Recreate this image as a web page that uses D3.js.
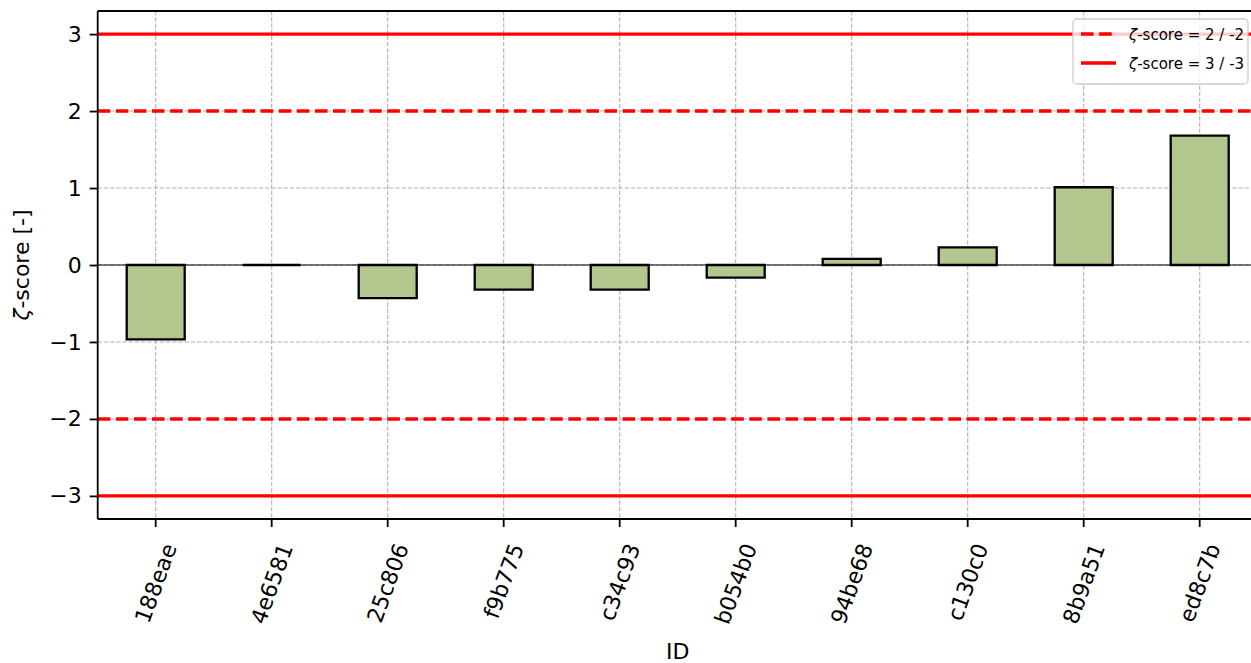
<!DOCTYPE html>
<html>
<head>
<meta charset="utf-8">
<script src="https://cdn.jsdelivr.net/npm/d3@7"></script>
<style>
  html, body { margin: 0; padding: 0; background: #fff; }
  svg { display: block; font-family: "DejaVu Sans", sans-serif; }
</style>
</head>
<body>
<svg id="chart" width="1251" height="663"></svg>
<script>
// Sample identifiers and their zeta-scores
const ids = ["188eae", "4e6581", "25c806", "f9b775", "c34c93", "b054b0", "94be68", "c130c0", "8b9a51", "ed8c7b"];
const zscores = [-0.965, 0.0, -0.43, -0.32, -0.32, -0.165, 0.08, 0.23, 1.01, 1.68];
const yTicks = [-3, -2, -1, 0, 1, 2, 3];
const limits = [
  { value: 2, dashed: true },
  { value: -2, dashed: true },
  { value: 3, dashed: false },
  { value: -3, dashed: false }
];
const legendItems = [
  { label: "-score = 2 / -2", dashed: true },
  { label: "-score = 3 / -3", dashed: false }
];

const svg = d3.select("#chart");
const plot = { left: 97.7, right: 1257.7, top: 11, bottom: 519 };

const x = d3.scaleBand().domain(ids).range([plot.left, plot.right]).paddingInner(0).paddingOuter(0);
const y = d3.scaleLinear().domain([-3.3, 3.3]).range([plot.bottom, plot.top]);

const fontSize = 22;
const barColor = "#b3c68e";

// clip region for the plotting area
svg.append("defs").append("clipPath").attr("id", "plotclip")
  .append("rect")
  .attr("x", plot.left).attr("y", plot.top)
  .attr("width", plot.right - plot.left).attr("height", plot.bottom - plot.top);

const g = svg.append("g").attr("clip-path", "url(#plotclip)");

// grid
g.selectAll("line.vgrid").data(ids).enter().append("line")
  .attr("x1", d => x(d) + x.bandwidth() / 2).attr("x2", d => x(d) + x.bandwidth() / 2)
  .attr("y1", plot.top).attr("y2", plot.bottom)
  .attr("stroke", "#b0b0b0").attr("stroke-width", 1.1).attr("stroke-dasharray", "4.3,1.9");
g.selectAll("line.hgrid").data(yTicks).enter().append("line")
  .attr("x1", plot.left).attr("x2", plot.right)
  .attr("y1", d => y(d)).attr("y2", d => y(d))
  .attr("stroke", "#b0b0b0").attr("stroke-width", 1.1).attr("stroke-dasharray", "4.3,1.9");

// zero line
g.append("line")
  .attr("x1", plot.left).attr("x2", plot.right)
  .attr("y1", y(0)).attr("y2", y(0))
  .attr("stroke", "#000").attr("stroke-width", 1.2);

// bars (paths, so a zero-height bar still shows its outline)
const bw = x.bandwidth() * 0.5;
g.selectAll("path.bar").data(zscores).enter().append("path")
  .attr("d", (d, i) => {
    const x0 = x(ids[i]) + (x.bandwidth() - bw) / 2;
    const y0 = y(0), y1 = y(d);
    return `M${x0},${y0}H${x0 + bw}V${y1}H${x0}Z`;
  })
  .attr("fill", barColor)
  .attr("stroke", "#000").attr("stroke-width", 2.3)
  .attr("stroke-linejoin", "miter");

// limit lines
g.selectAll("line.limit").data(limits).enter().append("line")
  .attr("x1", plot.left).attr("x2", plot.right)
  .attr("y1", d => y(d.value)).attr("y2", d => y(d.value))
  .attr("stroke", "#ff0000").attr("stroke-width", 3.4)
  .attr("stroke-dasharray", d => d.dashed ? "12.6,5.5" : null);

// spines
const spine = svg.append("g").attr("stroke", "#000").attr("stroke-width", 1.8).attr("fill", "none");
spine.append("line").attr("x1", plot.left).attr("x2", plot.left).attr("y1", plot.top).attr("y2", plot.bottom);
spine.append("line").attr("x1", plot.left).attr("x2", plot.right).attr("y1", plot.top).attr("y2", plot.top);
spine.append("line").attr("x1", plot.left).attr("x2", plot.right).attr("y1", plot.bottom).attr("y2", plot.bottom);
spine.append("line").attr("x1", plot.right).attr("x2", plot.right).attr("y1", plot.top).attr("y2", plot.bottom);

// y axis
const yAxis = d3.axisLeft(y).tickValues(yTicks).tickSize(8).tickPadding(8)
  .tickFormat(d => d < 0 ? "\u2212" + Math.abs(d) : String(d));
const yg = svg.append("g").attr("transform", `translate(${plot.left},0)`).call(yAxis);
yg.select(".domain").remove();
yg.selectAll(".tick line").attr("stroke-width", 1.8);
yg.selectAll(".tick text").attr("font-size", fontSize).attr("font-family", "DejaVu Sans").attr("fill", "#000");

// x axis with labels rotated 70 degrees, centred under each tick
const xAxis = d3.axisBottom(x).tickSize(8).tickPadding(8);
const xg = svg.append("g").attr("transform", `translate(0,${plot.bottom})`).call(xAxis);
xg.select(".domain").remove();
xg.selectAll(".tick line").attr("stroke-width", 1.8);
const angle = 70 * Math.PI / 180;
xg.selectAll(".tick text")
  .attr("font-size", fontSize).attr("font-family", "DejaVu Sans").attr("fill", "#000")
  .attr("text-anchor", "middle")
  .attr("y", null).attr("dy", "0.35em")
  .each(function () {
    const w = this.getComputedTextLength();
    const h = fontSize * 1.16;
    const boxH = w * Math.sin(angle) + h * Math.cos(angle);
    const top = 8 + 13;
    d3.select(this).attr("transform", `translate(0,${top + boxH / 2}) rotate(-70)`);
  });

// axis titles
svg.append("text")
  .attr("x", (plot.left + plot.right) / 2).attr("y", 659)
  .attr("text-anchor", "middle").attr("font-size", fontSize)
  .text("ID");

const ylab = svg.append("text")
  .attr("transform", `translate(29,${(plot.top + plot.bottom) / 2}) rotate(-90)`)
  .attr("text-anchor", "middle").attr("font-size", fontSize);
ylab.append("tspan").attr("font-style", "italic").text("\u03b6");
ylab.append("tspan").text("-score [-]");

// legend
const lg = svg.append("g").attr("transform", "translate(1073,19)");
lg.append("rect").attr("x", 0).attr("y", 0).attr("width", 175).attr("height", 65)
  .attr("rx", 4).attr("fill", "#fff").attr("fill-opacity", 0.8)
  .attr("stroke", "#cccccc").attr("stroke-width", 1.3);
legendItems.forEach((item, i) => {
  const cy = 15 + i * 29;
  lg.append("line").attr("x1", 8).attr("x2", 43).attr("y1", cy).attr("y2", cy)
    .attr("stroke", "#ff0000").attr("stroke-width", 3.4)
    .attr("stroke-dasharray", item.dashed ? "12.6,5.5" : null);
  const t = lg.append("text").attr("x", 56).attr("y", cy + 5.5).attr("font-size", 15);
  t.append("tspan").attr("font-style", "italic").text("\u03b6");
  t.append("tspan").text(item.label);
});
</script>
</body>
</html>
